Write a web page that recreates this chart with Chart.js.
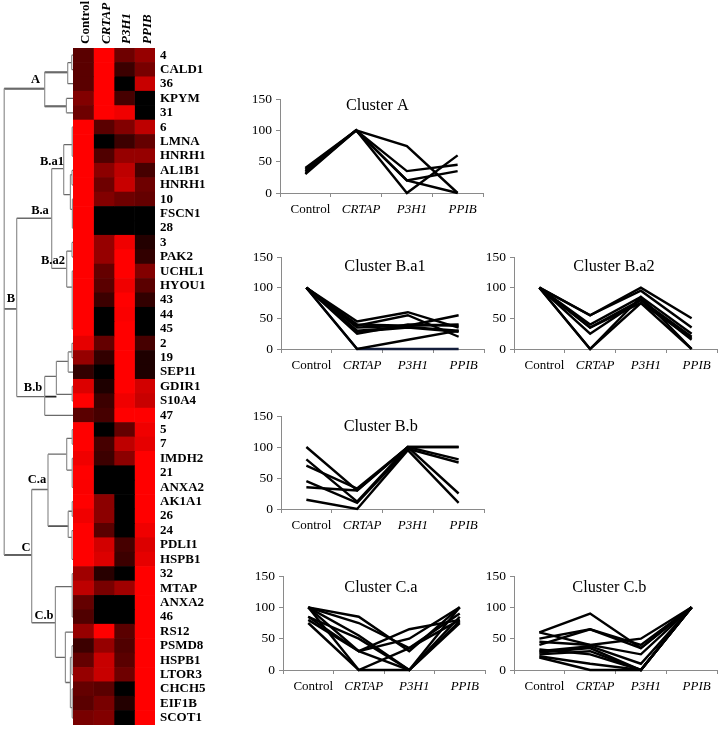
<!DOCTYPE html>
<html>
<head>
<meta charset="utf-8">
<title>Protein clusters</title>
<script src="https://cdn.jsdelivr.net/npm/chart.js@4/dist/chart.umd.min.js"></script>
<style>
    html, body { margin: 0; padding: 0; background: #fff; width: 719px; height: 731px; overflow: hidden; }
    canvas { position: absolute; display: block; }
    #dendro { left: 0; top: 48px; }
    #heat { left: 73px; top: 0; }
    #clusterA { left: 245px; top: 91px; }
    #clusterBa1 { left: 246px; top: 249px; }
    #clusterBa2 { left: 479px; top: 249px; }
    #clusterBb { left: 246px; top: 408px; }
    #clusterCa { left: 248px; top: 568px; }
    #clusterCb { left: 479px; top: 568px; }
</style>
</head>
<body>
<canvas id="dendro" width="73" height="677"></canvas>
<canvas id="heat" width="152" height="725"></canvas>
<canvas id="clusterA" width="242" height="129"></canvas>
<canvas id="clusterBa1" width="242" height="127"></canvas>
<canvas id="clusterBa2" width="242" height="127"></canvas>
<canvas id="clusterBb" width="242" height="128"></canvas>
<canvas id="clusterCa" width="241" height="129"></canvas>
<canvas id="clusterCb" width="242" height="129"></canvas>
<script>
const conditions = ['Control', 'CRTAP', 'P3H1', 'PPIB'];
const valueTicks = [0, 50, 100, 150];

const rowNames = ['4', 'CALD1', '36', 'KPYM', '31', '6', 'LMNA', 'HNRH1', 'AL1B1', 'HNRH1', '10', 'FSCN1', '28',
    '3', 'PAK2', 'UCHL1', 'HYOU1', '43', '44', '45', '2', '19', 'SEP11', 'GDIR1', 'S10A4', '47',
    '5', '7', 'IMDH2', '21', 'ANXA2', 'AK1A1', '26', '24', 'PDLI1', 'HSPB1',
    '32', 'MTAP', 'ANXA2', '46', 'RS12', 'PSMD8', 'HSPB1', 'LTOR3', 'CHCH5', 'EIF1B', 'SCOT1'];

// red level of each heatmap cell, top row first
const controlShade = [90, 90, 90, 130, 110, 255, 255, 255, 255, 255, 255, 255, 255,
    255, 255, 255, 255, 255, 255, 255, 230, 150, 50, 220, 255, 90,
    255, 255, 240, 255, 250, 255, 240, 255, 255, 255,
    160, 190, 100, 80, 150, 60, 100, 150, 100, 90, 120];
const crtapShade = [255, 255, 255, 255, 255, 90, 0, 80, 140, 110, 130, 0, 0,
    150, 150, 100, 90, 60, 0, 0, 100, 50, 0, 30, 60, 70,
    0, 70, 60, 0, 0, 140, 140, 90, 210, 220,
    40, 120, 0, 0, 255, 150, 200, 200, 90, 120, 130];
const p3h1Shade = [110, 60, 0, 70, 240, 130, 60, 150, 190, 200, 110, 0, 0,
    240, 255, 255, 240, 255, 250, 255, 255, 255, 255, 255, 240, 255,
    100, 190, 140, 0, 0, 0, 0, 0, 70, 60,
    0, 160, 0, 0, 90, 80, 90, 110, 0, 35, 0];
const ppibShade = [150, 120, 200, 0, 0, 190, 100, 150, 70, 110, 100, 0, 0,
    35, 50, 130, 90, 50, 0, 0, 70, 30, 30, 210, 200, 255,
    240, 230, 255, 255, 255, 255, 255, 240, 220, 230,
    255, 255, 255, 255, 255, 255, 255, 255, 255, 255, 255];

// dendrogram brackets: distance, top row, top child distance, bottom row, bottom child distance
const brackets = [
    [68.8, 2.82, 28.3, 18.1, 56.3], [68.8, 18.1, 56.3, 35.2, 41.3],
    [28.3, 1.69, 5.3, 4.05, 6.6], [5.3, 1.02, 1.3, 2.48, 0], [1.3, 0.5, 0, 1.5, 0], [6.6, 3.5, 0, 4.5, 0],
    [56.3, 11.82, 21.3, 24.2, 28.3], [21.3, 8.38, 9.3, 15.3, 6.3],
    [9.3, 6.71, 0.8, 10.18, 2.6], [0.8, 5.5, 0, 7.5, 0], [2.6, 8.8, 1, 11.2, 0.6], [1, 8.5, 0, 9.5, 0], [0.6, 10.5, 0, 12.5, 0],
    [6.3, 14.1, 1, 16.6, 0.8], [1, 13.5, 0, 14.5, 0], [0.8, 15.5, 0, 19.5, 0],
    [28.3, 22.8, 16.6, 25.5, 0], [16.6, 21.75, 4.8, 24.05, 0.8], [4.8, 21.1, 1, 22.5, 0], [1, 20.5, 0, 21.5, 0], [0.8, 23.5, 0, 24.5, 0],
    [41.3, 30.65, 25, 39.9, 17.6], [25, 28.2, 6.3, 33.2, 4.8], [6.3, 27.1, 0.8, 29.3, 0.8], [0.8, 26.5, 0, 27.5, 0], [0.8, 28.5, 0, 30.5, 0],
    [4.8, 32.16, 0.8, 33.98, 1], [0.8, 31.5, 0, 32.5, 0], [1, 33.5, 0, 35.5, 0],
    [17.6, 37.4, 0.8, 42.3, 7.6], [0.8, 36.5, 0, 39.5, 0], [7.6, 40.55, 0, 44.05, 2.6], [2.6, 42.3, 1, 45.8, 0.8], [1, 41.5, 0, 43.5, 0], [0.8, 44.5, 0, 46.5, 0]
];
// branches drawn darker in the picture: row, from distance, to distance
const heavyBranches = [[2.82, 68.8, 28.3], [35.2, 68.8, 41.3], [1.69, 28.3, 5.3], [4.05, 28.3, 6.6], [33.2, 25, 4.8], [18.1, 68.8, 56.3], [24.2, 28.3, 16.6]];

const clusterNames = ['A', 'B', 'B.a', 'B.a1', 'B.a2', 'B.b', 'C', 'C.a', 'C.b'];
const clusterNameDist = [37.5, 62, 33, 21, 20, 40, 47, 36, 29];
const clusterNameRow = [2.2, 17.4, 11.3, 7.9, 14.8, 23.6, 34.7, 30, 39.4];

const seriesA = [[40, 100, 75, 0], [37, 100, 35, 45], [35, 100, 20, 35], [32, 100, 20, 0], [30, 100, 0, 60]];
const seriesBa1 = [[100, 45, 60, 35], [100, 38, 55, 20], [100, 40, 38, 40], [100, 35, 38, 55], [100, 30, 36, 30],
    [100, 28, 35, 28], [100, 25, 40, 38], [100, 0, 15, 30], [100, 0, 0, 0]];
const seriesBa2 = [[100, 55, 100, 50], [100, 55, 95, 35], [100, 40, 85, 25], [100, 35, 80, 20], [100, 25, 80, 15],
    [100, 35, 75, 18], [100, 0, 85, 0], [100, 0, 75, 0]];
const seriesBb = [[100, 30, 100, 100], [80, 12, 100, 100], [70, 33, 100, 80], [45, 10, 97, 75], [35, 30, 100, 25], [15, 0, 95, 10]];
const seriesCa = [[100, 85, 30, 100], [100, 75, 35, 90], [100, 55, 0, 85], [100, 0, 35, 80], [85, 30, 65, 80],
    [80, 30, 50, 100], [75, 0, 0, 75], [85, 50, 0, 100], [100, 30, 0, 78]];
const seriesCb = [[60, 90, 35, 100], [50, 65, 40, 100], [40, 65, 35, 100], [60, 40, 25, 100], [45, 40, 50, 100], [30, 38, 10, 100],
    [33, 25, 0, 100], [25, 30, 0, 100], [22, 10, 0, 100], [20, 0, 0, 100], [28, 35, 0, 100]];

const serif = 'Liberation Serif';

// keep the plot box where the page puts it, whatever the labels ask for
function pinScale(s, size) {
    if (s.isHorizontal()) s.height = size; else s.width = size;
    s.paddingLeft = s.paddingRight = s.paddingTop = s.paddingBottom = 0;
}

function drawHeatmap() {
    const shades = [controlShade, crtapShade, p3h1Shade, ppibShade];
    new Chart(document.getElementById('heat'), {
        type: 'bar',
        data: {
            labels: rowNames,
            datasets: conditions.map((c, i) => ({
                label: c,
                data: rowNames.map(() => 1),
                backgroundColor: shades[i].map(v => `rgb(${v},0,0)`),
                borderWidth: 0,
                barPercentage: 1,
                categoryPercentage: 1
            }))
        },
        options: {
            indexAxis: 'y',
            responsive: false,
            animation: false,
            layout: { autoPadding: false },
            plugins: { legend: { display: false }, tooltip: { enabled: false } },
            scales: {
                x: {
                    stacked: true, position: 'top', min: 0, max: 4,
                    grid: { display: false, drawTicks: false }, border: { display: false },
                    afterBuildTicks: s => { s.ticks = conditions.map((c, i) => ({ value: i + 0.5 })); },
                    afterFit: s => pinScale(s, 48),
                    ticks: {
                        autoSkip: false, minRotation: 90, maxRotation: 90, padding: 4, labelOffset: 18, color: '#000',
                        callback: (v) => conditions[Math.floor(v)],
                        font: ctx => ({ family: serif, size: 13, weight: 'bold', style: ctx.index === 0 ? 'normal' : 'italic' })
                    }
                },
                y: {
                    stacked: true, position: 'right',
                    grid: { display: false, drawTicks: false }, border: { display: false },
                    afterFit: s => pinScale(s, 70),
                    ticks: { autoSkip: false, padding: 5, color: '#000', font: { family: serif, size: 13, weight: 'bold' } }
                }
            }
        }
    });
}

function drawDendrogram() {
    const verticals = [];
    const horizontals = [];
    brackets.forEach(([dist, top, topChild, bottom, bottomChild]) => {
        verticals.push({ x: dist, y: top }, { x: dist, y: bottom }, { x: null, y: null });
        horizontals.push({ x: dist, y: top }, { x: topChild, y: top }, { x: null, y: null });
        horizontals.push({ x: dist, y: bottom }, { x: bottomChild, y: bottom }, { x: null, y: null });
    });
    const heavy = [];
    heavyBranches.forEach(([row, from, to]) => {
        heavy.push({ x: from, y: row }, { x: to, y: row }, { x: null, y: null });
    });
    const line = (data, color, width) => ({ data, borderColor: color, borderWidth: width, showLine: true, pointRadius: 0, spanGaps: false });
    new Chart(document.getElementById('dendro'), {
        type: 'scatter',
        data: { datasets: [line(verticals, '#8f8f8f', 1.2), line(horizontals, '#6a6a6a', 1.3), line(heavy, '#222', 1.6)] },
        options: {
            responsive: false,
            animation: false,
            layout: { autoPadding: false },
            plugins: { legend: { display: false }, tooltip: { enabled: false } },
            scales: {
                x: { type: 'linear', display: false, min: 0, max: 73, reverse: true },
                y: { type: 'linear', display: false, min: 0, max: 47, reverse: true }
            }
        },
        plugins: [{
            id: 'clusterNames',
            afterDraw(chart) {
                const ctx = chart.ctx;
                ctx.save();
                ctx.font = `bold 12.5px "${serif}"`;
                ctx.fillStyle = '#000';
                ctx.textAlign = 'center';
                ctx.textBaseline = 'middle';
                clusterNames.forEach((name, i) => {
                    ctx.fillText(name, chart.scales.x.getPixelForValue(clusterNameDist[i]), chart.scales.y.getPixelForValue(clusterNameRow[i]));
                });
                ctx.restore();
            }
        }]
    });
}

function drawCluster(id, title, series, titleIndex, titleValue, lastColor) {
    const canvas = document.getElementById(id);
    new Chart(canvas, {
        type: 'line',
        data: {
            labels: conditions,
            datasets: series.map((values, i) => ({
                data: values,
                borderColor: lastColor && i === series.length - 1 ? lastColor : '#000',
                borderWidth: 2.4,
                pointRadius: 0,
                tension: 0,
                clip: 8
            }))
        },
        options: {
            responsive: false,
            animation: false,
            layout: { autoPadding: false, padding: { top: 8, right: 4 } },
            plugins: { legend: { display: false }, tooltip: { enabled: false } },
            scales: {
                x: {
                    offset: true,
                    grid: { offset: true, drawOnChartArea: false, tickLength: 4, color: '#8a8a8a' },
                    border: { color: '#8a8a8a' },
                    afterFit: s => pinScale(s, 27),
                    ticks: {
                        labelOffset: 5, padding: 5, color: '#000', maxRotation: 0, autoSkip: false,
                        font: ctx => ({ family: serif, size: 13, style: ctx.index === 0 ? 'normal' : 'italic' })
                    }
                },
                y: {
                    min: 0, max: 150,
                    afterBuildTicks: s => { s.ticks = valueTicks.map(v => ({ value: v })); },
                    grid: { drawOnChartArea: false, tickLength: 4, color: '#8a8a8a' },
                    border: { color: '#8a8a8a' },
                    afterFit: s => pinScale(s, 35),
                    ticks: { padding: 4, color: '#000', font: { family: serif, size: 13.5 } }
                }
            }
        },
        plugins: [{
            id: 'insideTitle',
            afterDraw(chart) {
                const ctx = chart.ctx;
                ctx.save();
                ctx.font = `16.3px "${serif}"`;
                ctx.fillStyle = '#000';
                ctx.textAlign = 'center';
                ctx.textBaseline = 'middle';
                ctx.fillText(title, chart.scales.x.getPixelForValue(titleIndex), chart.scales.y.getPixelForValue(titleValue));
                ctx.restore();
            }
        }]
    });
}

drawDendrogram();
drawHeatmap();
drawCluster('clusterA', 'Cluster A', seriesA, 1.42, 139);
drawCluster('clusterBa1', 'Cluster B.a1', seriesBa1, 1.55, 134, '#141e3c');
drawCluster('clusterBa2', 'Cluster B.a2', seriesBa2, 1.47, 134);
drawCluster('clusterBb', 'Cluster B.b', seriesBb, 1.465, 133);
drawCluster('clusterCa', 'Cluster C.a', seriesCa, 1.44, 131);
drawCluster('clusterCb', 'Cluster C.b', seriesCb, 1.38, 132);
</script>
</body>
</html>
